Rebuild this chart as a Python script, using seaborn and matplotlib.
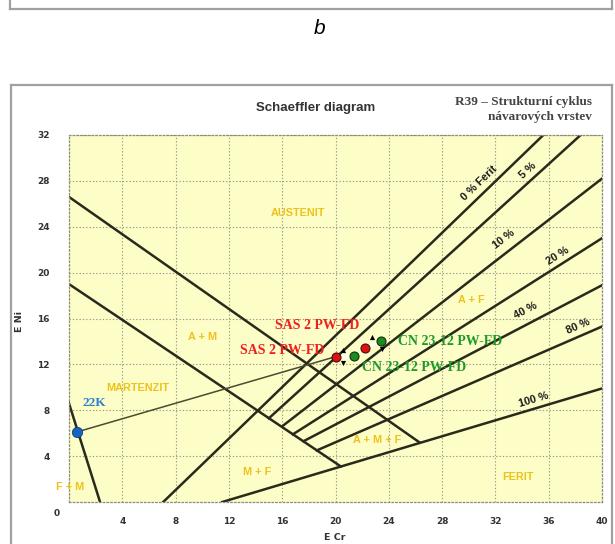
import numpy as np
import pandas as pd
import matplotlib
matplotlib.use("Agg")
import matplotlib.pyplot as plt
import seaborn as sns
from matplotlib.lines import Line2D

# ---------------- data ----------------
# boundary lines (E Cr, E Ni end points)
upper_bound_x = [0.0, 26.3]
upper_bound_y = [26.6, 5.2]
lower_bound_x = [0.0, 20.4]
lower_bound_y = [19.0, 3.1]
mf_bound_x = [0.0, 2.33]
mf_bound_y = [8.6, 0.0]

# ferrite iso-lines
ferrite_labels = ["0 % Ferit", "5 %", "10 %", "20 %", "40 %", "80 %", "100 %"]
ferrite_x0 = [7.07, 15.0, 16.0, 16.8, 17.6, 18.6, 11.5]
ferrite_y0 = [0.0, 7.3, 6.6, 5.9, 5.3, 4.5, 0.0]
ferrite_x1 = [35.6, 38.4, 40.0, 40.0, 40.0, 40.0, 40.0]
ferrite_y1 = [32.0, 32.0, 28.2, 23.0, 18.9, 15.3, 9.9]
ferrite_label_x = [30.8, 34.4, 32.6, 36.7, 34.3, 38.2, 34.9]
ferrite_label_y = [27.8, 28.9, 22.9, 21.5, 16.7, 15.3, 8.9]

# region names
region_names = ["AUSTENIT", "A + M", "MARTENZIT", "F + M", "M + F", "A + M + F", "A + F", "FERIT"]
region_x = [17.2, 10.0, 5.15, 0.1, 14.1, 23.1, 30.2, 33.7]
region_y = [25.2, 14.4, 9.9, 1.3, 2.65, 5.4, 17.6, 2.2]

# measured points
base_name = "22K"
base_x = [0.58]
base_y = [6.1]
sas_x = [20.0, 22.2]
sas_y = [12.67, 13.4]
cn_x = [21.4, 23.4]
cn_y = [12.7, 14.06]
arrow_x = [20.6, 20.6, 22.75, 23.5]
arrow_y = [13.25, 12.1, 14.35, 13.3]
arrow_kind = ["^", "v", "^", "v"]

sas_label = "SAS 2 PW-FD"
sas_label_x = [18.6, 16.0]
sas_label_y = [15.4, 13.25]
cn_label = "CN 23-12 PW-FD"
cn_label_x = [28.6, 25.9]
cn_label_y = [13.97, 11.7]

x_ticks = [4, 8, 12, 16, 20, 24, 28, 32, 36, 40]
y_ticks = [4, 8, 12, 16, 20, 24, 28, 32]

# ---------------- figure ----------------
W, H = 615, 544
fig = plt.figure(figsize=(W / 100, H / 100), dpi=100)
fig.patch.set_facecolor("white")

def fx(px):
    return px / W

def fy(py):
    return 1 - py / H

# outer frames
frame_col = "#a0a0a0"
fig.add_artist(Line2D([fx(10), fx(612)], [fy(9), fy(9)], color=frame_col, lw=1.6))
fig.add_artist(Line2D([fx(10), fx(10)], [fy(0), fy(9)], color=frame_col, lw=1.6))
fig.add_artist(Line2D([fx(612), fx(612)], [fy(0), fy(9)], color=frame_col, lw=1.6))
fig.add_artist(Line2D([fx(11), fx(612)], [fy(85), fy(85)], color=frame_col, lw=1.6))
fig.add_artist(Line2D([fx(11), fx(11)], [fy(85), fy(544)], color=frame_col, lw=1.6))
fig.add_artist(Line2D([fx(612), fx(612)], [fy(85), fy(544)], color=frame_col, lw=1.6))

fig.text(fx(320), fy(29), "b", fontsize=15, style="italic", family="Liberation Sans",
         ha="center", va="center")

ax = fig.add_axes([fx(69), fy(502), (602 - 69) / W, (502 - 135) / H])
ax.set_facecolor("#fdfdc8")

line_col = "#2a2a1c"

# boundary lines via seaborn
rows = []
for name, xs, ys in [("upper", upper_bound_x, upper_bound_y),
                     ("lower", lower_bound_x, lower_bound_y),
                     ("mf", mf_bound_x, mf_bound_y)]:
    for xv, yv in zip(xs, ys):
        rows.append({"line": name, "x": xv, "y": yv})
for lab, x0, y0, x1, y1 in zip(ferrite_labels, ferrite_x0, ferrite_y0, ferrite_x1, ferrite_y1):
    rows.append({"line": lab, "x": x0, "y": y0})
    rows.append({"line": lab, "x": x1, "y": y1})
lines_df = pd.DataFrame(rows)
sns.lineplot(data=lines_df, x="x", y="y", units="line", estimator=None, sort=False,
             color=line_col, lw=1.8, ax=ax, legend=False)

# tie line from 22K to first SAS point
tie_df = pd.DataFrame({"x": [base_x[0], sas_x[0]], "y": [base_y[0], sas_y[0]]})
sns.lineplot(data=tie_df, x="x", y="y", sort=False, estimator=None,
             color="#4b4b30", lw=1.1, ax=ax, legend=False)

# white links between measured pairs
for i in range(2):
    link_df = pd.DataFrame({"x": [sas_x[i], cn_x[i]], "y": [sas_y[i], cn_y[i]]})
    sns.lineplot(data=link_df, x="x", y="y", sort=False, estimator=None,
                 color="white", lw=2.0, ax=ax, legend=False)

# points
sns.scatterplot(x=base_x, y=base_y, color="#1565c0", s=55, edgecolor="#0d3d80",
                linewidth=0.6, ax=ax, zorder=5)
sns.scatterplot(x=sas_x, y=sas_y, color="#e01010", s=42, edgecolor="#401010",
                linewidth=0.8, ax=ax, zorder=5)
sns.scatterplot(x=cn_x, y=cn_y, color="#1c8a1c", s=42, edgecolor="#103010",
                linewidth=0.8, ax=ax, zorder=5)
for xv, yv, mk in zip(arrow_x, arrow_y, arrow_kind):
    sns.scatterplot(x=[xv], y=[yv], marker=mk, color="black", s=14, ax=ax, zorder=6,
                    linewidth=0)

# region labels
gold = "#eec21c"
for name, xv, yv in zip(region_names, region_x, region_y):
    ax.text(xv, yv, name, color=gold, fontsize=7.8, fontweight="bold",
            family="Liberation Sans", ha="center", va="center", clip_on=False)

# ferrite labels
for lab, x0, y0, x1, y1, lx, ly in zip(ferrite_labels, ferrite_x0, ferrite_y0,
                                        ferrite_x1, ferrite_y1,
                                        ferrite_label_x, ferrite_label_y):
    ang = np.degrees(np.arctan2(y1 - y0, x1 - x0))
    ax.text(lx, ly, lab, rotation=ang, transform_rotates_text=True,
            rotation_mode="anchor", ha="center", va="center", fontsize=7.8,
            fontweight="bold", family="Liberation Sans", color="#1a1a1a")

# point labels
ax.text(base_x[0] + 0.4, base_y[0] + 2.5, base_name, color="#2a7fd0", fontsize=9.5,
        fontweight="bold", family="Liberation Serif", ha="left", va="center")
for xv, yv in zip(sas_label_x, sas_label_y):
    ax.text(xv, yv, sas_label, color="#ee2020", fontsize=10, fontweight="bold",
            family="Liberation Serif", ha="center", va="center")
for xv, yv in zip(cn_label_x, cn_label_y):
    ax.text(xv, yv, cn_label, color="#1f9a2a", fontsize=10, fontweight="bold",
            family="Liberation Serif", ha="center", va="center")

# axes styling
ax.set_xlim(0, 40)
ax.set_ylim(0, 32)
ax.set_xticks(x_ticks)
ax.set_xticklabels([str(v) for v in x_ticks])
ax.set_yticks(y_ticks)
ax.set_yticklabels([str(v) for v in y_ticks])
ax.tick_params(length=0, labelsize=6.5, labelcolor="#333333")
ax.tick_params(axis="x", pad=11)
ax.tick_params(axis="y", pad=14)
for t in ax.get_xticklabels() + ax.get_yticklabels():
    t.set_fontweight("bold")
    t.set_family("DejaVu Sans")
ax.grid(True, color="#9a9a86", lw=0.8, linestyle=(0, (1.2, 1.8)))
ax.set_axisbelow(True)
for sp in ax.spines.values():
    sp.set_linestyle((0, (1.2, 1.8)))
    sp.set_color("#8c8c78")
    sp.set_linewidth(0.9)
ax.set_xlabel("")
ax.set_ylabel("")

fig.text(fx(57), fy(513), "0", fontsize=6.5, fontweight="bold", color="#333333",
         ha="center", va="center")
fig.text(fx(335), fy(538), "E Cr", fontsize=6.8, fontweight="bold", color="#333333",
         ha="center", va="center")
fig.text(fx(19), fy(322), "E Ni", fontsize=6.8, fontweight="bold", color="#333333",
         ha="center", va="center", rotation=90)

# titles
fig.text(fx(316), fy(108), "Schaeffler diagram", fontsize=9.5, fontweight="bold",
         family="Liberation Sans", color="#333333", ha="center", va="center")
fig.text(fx(592), fy(102), "R39 \u2013 Strukturní cyklus", fontsize=9.5, fontweight="bold",
         family="Liberation Serif", color="#444444", ha="right", va="center")
fig.text(fx(592), fy(117), "návarových vrstev", fontsize=9.5, fontweight="bold",
         family="Liberation Serif", color="#444444", ha="right", va="center")

fig.savefig("out.png", dpi=100)
